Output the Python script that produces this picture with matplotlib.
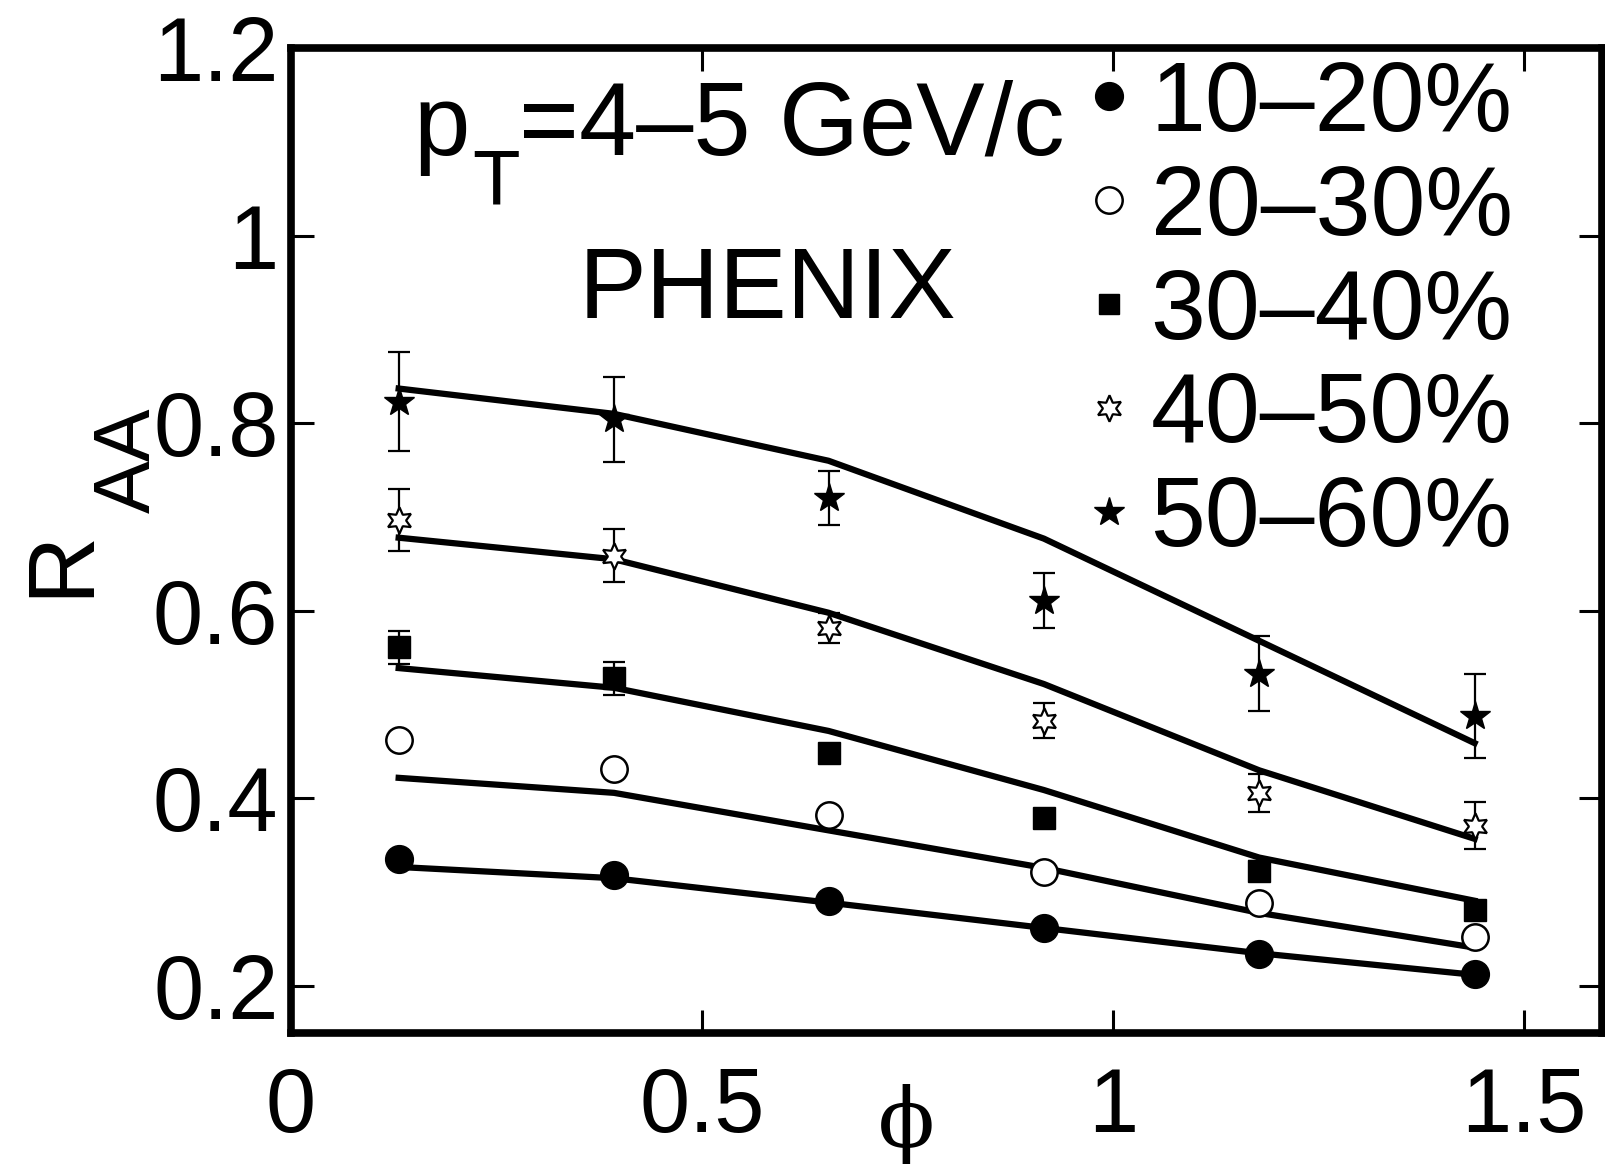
import matplotlib
matplotlib.use('Agg')
import matplotlib.pyplot as plt
from matplotlib.lines import Line2D

plt.rcParams['font.family'] = ['Liberation Sans', 'DejaVu Sans']

# ---- data ----
phi = [0.131, 0.393, 0.654, 0.916, 1.178, 1.440]
centralities = ['10–20%', '20–30%', '30–40%', '40–50%', '50–60%']

raa_10_20 = [0.336, 0.318, 0.291, 0.262, 0.234, 0.213]
raa_20_30 = [0.462, 0.431, 0.382, 0.322, 0.289, 0.252]
raa_30_40 = [0.561, 0.528, 0.448, 0.379, 0.323, 0.281]
raa_40_50 = [0.697, 0.659, 0.582, 0.483, 0.406, 0.371]
raa_50_60 = [0.823, 0.804, 0.720, 0.611, 0.533, 0.488]

err_30_40 = [0.018, 0.018, 0.010, 0.010, 0.010, 0.010]
err_40_50 = [0.033, 0.028, 0.016, 0.019, 0.020, 0.025]
err_50_60 = [0.053, 0.045, 0.029, 0.029, 0.040, 0.045]

model_10_20 = [0.327, 0.315, 0.289, 0.262, 0.235, 0.212]
model_20_30 = [0.422, 0.406, 0.366, 0.326, 0.278, 0.241]
model_30_40 = [0.539, 0.518, 0.472, 0.409, 0.337, 0.291]
model_40_50 = [0.678, 0.655, 0.598, 0.522, 0.430, 0.357]
model_50_60 = [0.837, 0.810, 0.760, 0.677, 0.568, 0.459]

xticks = [0, 0.5, 1, 1.5]
xticklabels = ['0', '0.5', '1', '1.5']
yticks = [0.2, 0.4, 0.6, 0.8, 1.0, 1.2]
yticklabels = ['0.2', '0.4', '0.6', '0.8', '1', '1.2']

W, H = 1605, 1168
fig = plt.figure(figsize=(W / 100, H / 100), dpi=100)
ax = fig.add_axes([291 / W, 135 / H, (1602 - 291) / W, (1033 - 48) / H])

# model curves
for m in [model_10_20, model_20_30, model_30_40, model_40_50, model_50_60]:
    ax.plot(phi, m, '-', color='k', lw=4.5, zorder=3)

eb = dict(ecolor='k', elinewidth=1.6, capsize=8, capthick=1.6, ls='none', zorder=4)
ax.plot(phi, raa_10_20, ls='none', marker='o', ms=20, mfc='k', mec='k', zorder=4)
ax.plot(phi, raa_20_30, ls='none', marker='o', ms=19, mfc='white', mec='k', mew=1.8, zorder=4)
ax.errorbar(phi, raa_30_40, yerr=err_30_40, marker='s', ms=16, mfc='k', mec='k', **eb)
ax.errorbar(phi, raa_40_50, yerr=err_40_50, marker=(6, 1, 0), ms=19, mfc='white', mec='k', mew=1.6, **eb)
ax.errorbar(phi, raa_50_60, yerr=err_50_60, marker='*', ms=22, mfc='k', mec='k', **eb)

ax.set_xlim(0, 1.595)
ax.set_ylim(0.15, 1.2)
ax.set_xticks(xticks, xticklabels)
ax.set_yticks(yticks, yticklabels)
ax.tick_params(direction='in', length=16.5, width=2.2, top=True, right=True,
               labelsize=65, colors='k')
ax.tick_params(axis='x', pad=24)
ax.tick_params(axis='y', pad=9)
for s in ax.spines.values():
    s.set_linewidth(5.5)

# legend
handles = [
    Line2D([], [], ls='none', marker='o', ms=20, mfc='k', mec='k'),
    Line2D([], [], ls='none', marker='o', ms=19, mfc='white', mec='k', mew=1.8),
    Line2D([], [], ls='none', marker='s', ms=15, mfc='k', mec='k'),
    Line2D([], [], ls='none', marker=(6, 1, 0), ms=19, mfc='white', mec='k', mew=1.6),
    Line2D([], [], ls='none', marker='*', ms=22, mfc='k', mec='k'),
]
ax.legend(handles, centralities, loc='upper left',
          bbox_to_anchor=(1084.5 / W, 1 - 60 / H), bbox_transform=fig.transFigure,
          frameon=False, fontsize=71, handlelength=0.5, handletextpad=0.17,
          labelspacing=0.13, borderpad=0, borderaxespad=0)

def ftext(x, y, s, **kw):
    return fig.text(x / W, 1 - y / H, s, **kw)

# annotations
ftext(413, 155, 'p', fontsize=73, ha='left', va='baseline')
ftext(472, 204, 'T', fontsize=56, ha='left', va='baseline')
ftext(519, 155, '=4–5 GeV/c', fontsize=74, ha='left', va='baseline')
ftext(579, 318, 'PHENIX', fontsize=73, ha='left', va='baseline')

# y label R_AA
ftext(87, 563, 'R', fontsize=68, rotation=90, rotation_mode='anchor',
      ha='center', va='baseline')
ftext(150, 460, 'AA', fontsize=57, rotation=90, rotation_mode='anchor',
      ha='center', va='baseline')

# x label phi
ftext(906, 1124, 'ϕ', fontsize=60, ha='center', va='center', family='DejaVu Serif')

fig.savefig('out.png', dpi=100)
